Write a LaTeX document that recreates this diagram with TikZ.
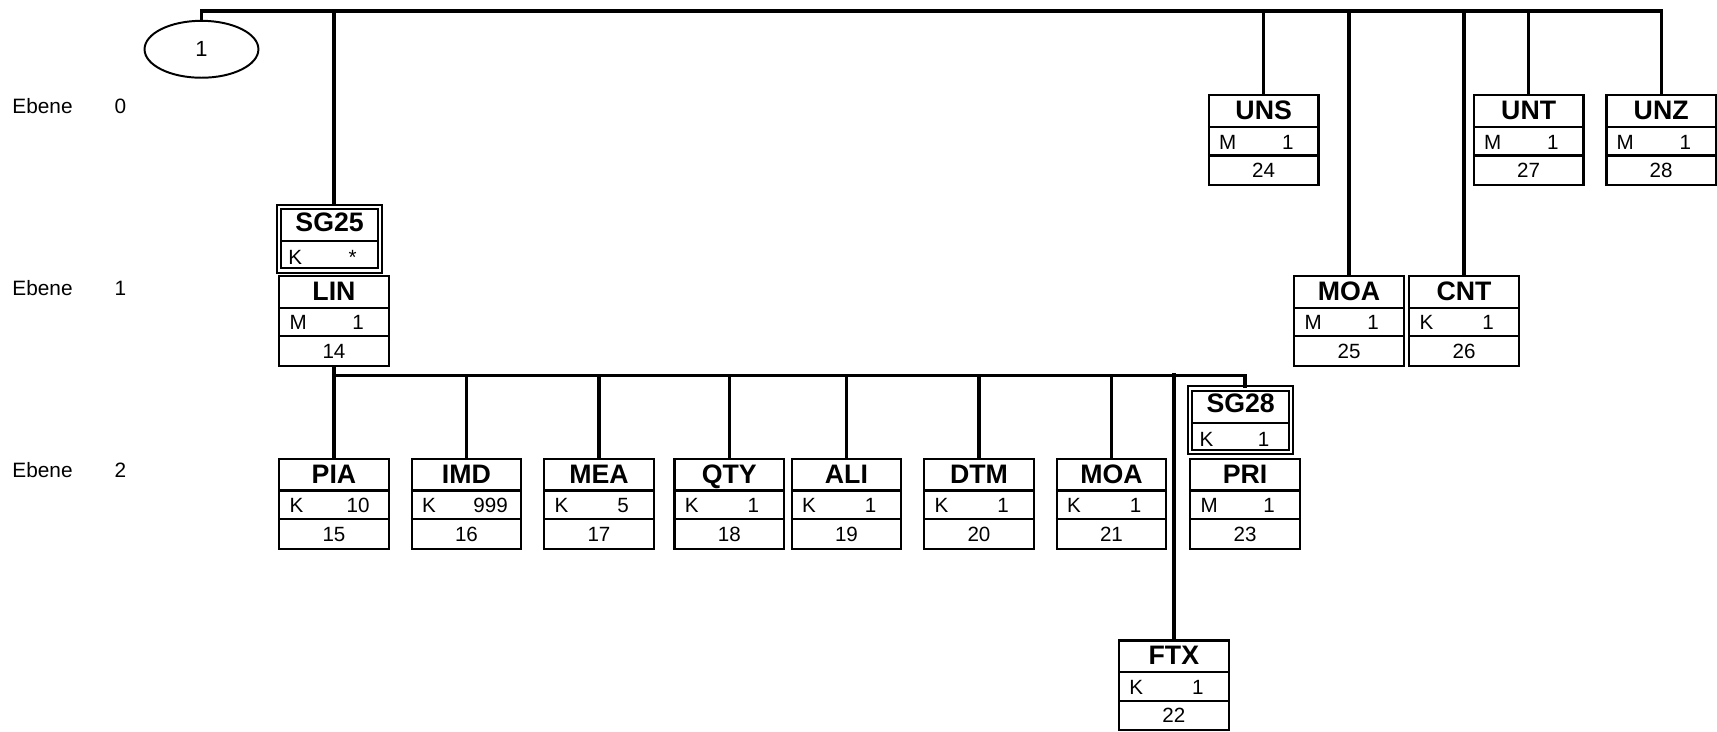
\documentclass[tikz,border=0pt]{standalone}
\usepackage{fontspec}
\setmainfont{Liberation Sans}
\usetikzlibrary{shapes.geometric, calc}

% segment box: name, x, top, tag, status, repeat, number
\newcommand{\segbox}[7]{%
    \node[seg, anchor=north] (#1) at (#2,#3) {};
    \draw[rowline] ($(#1.north west)+(0,30)$) -- ($(#1.north east)+(0,30)$);
    \draw[rowline] ($(#1.north west)+(0,56)$) -- ($(#1.north east)+(0,56)$);
    \node[tagtext] (#1-t) at ($(#1.north)+(0,16)$) {#4};
    \node[smalltext, anchor=west] (#1-s) at ($(#1.north west)+(10,43)$) {#5};
    \node[smalltext] (#1-r) at ($(#1.north west)+(73,43)$) {#6};
    \node[smalltext] (#1-n) at ($(#1.north)+(0,69)$) {#7};
}
% group box: name, x, top, tag, status, repeat
\newcommand{\grpbox}[6]{%
    \node[grp, anchor=north] (#1) at (#2,#3) {};
    \draw[rowline] ($(#1.north west)+(1.9,32.1)$) -- ($(#1.north east)+(-1.9,32.1)$);
    \node[tagtext] (#1-t) at ($(#1.north)+(0,16)$) {#4};
    \node[smalltext, anchor=west] (#1-s) at ($(#1.north west)+(9,46.3)$) {#5};
    \node[smalltext] (#1-r) at ($(#1.north west)+(68,46.3)$) {#6};
}

\begin{document}
\begin{tikzpicture}[x=0.5pt, y=-0.5pt,
    conn/.style={line width=1.5pt},
    rowline/.style={line width=1pt},
    seg/.style={draw, line width=1pt, minimum width=50pt, minimum height=41pt, inner sep=0pt},
    grp/.style={draw, line width=0.9pt, double, double distance=1pt, minimum width=46.1pt, minimum height=29.1pt, inner sep=0pt},
    tagtext/.style={font=\fontsize{12.2}{14}\selectfont\bfseries, inner sep=0pt, text height=0.72em, text depth=0pt},
    smalltext/.style={font=\fontsize{9.4}{11}\selectfont, inner sep=0pt, text height=0.72em, text depth=0pt},
    leveltext/.style={font=\fontsize{9.5}{11}\selectfont, inner sep=0pt, text height=0.72em, text depth=0pt}]
        \useasboundingbox (0,0) rectangle (1568,668);

        % Levels
        \node[leveltext, anchor=west] (e0) at (11,96) {Ebene};
        \node[leveltext] (e0n) at (110,96) {0};
        \node[leveltext, anchor=west] (e1) at (11,263) {Ebene};
        \node[leveltext] (e1n) at (110,263) {1};
        \node[leveltext, anchor=west] (e2) at (11,429) {Ebene};
        \node[leveltext] (e2n) at (110,429) {2};

        % Root
        \node[ellipse, draw, line width=0.9pt, minimum width=52pt, minimum height=26pt, inner sep=0pt, font=\fontsize{10}{12}\selectfont] (root) at (184,45) {1};

        % Level 0
        \segbox{uns}{1154}{86}{UNS}{M}{1}{24}
        \segbox{unt}{1396}{86}{UNT}{M}{1}{27}
        \segbox{unz}{1517}{86}{UNZ}{M}{1}{28}

        % Level 1
        \grpbox{sg25}{301}{187.9}{SG25}{K}{*}
        \segbox{lin}{305}{251}{LIN}{M}{1}{14}
        \segbox{moaa}{1232}{251}{MOA}{M}{1}{25}
        \segbox{cnt}{1337}{251}{CNT}{K}{1}{26}

        % Level 2
        \segbox{pia}{305}{418}{PIA}{K}{10}{15}
        \segbox{imd}{426}{418}{IMD}{K}{999}{16}
        \segbox{mea}{547}{418}{MEA}{K}{5}{17}
        \segbox{qty}{666}{418}{QTY}{K}{1}{18}
        \segbox{ali}{773}{418}{ALI}{K}{1}{19}
        \segbox{dtm}{894}{418}{DTM}{K}{1}{20}
        \segbox{moab}{1015}{418}{MOA}{K}{1}{21}
        \grpbox{sg28}{1133}{353.9}{SG28}{K}{1}
        \segbox{pri}{1137}{418}{PRI}{M}{1}{23}
        \segbox{ftx}{1072}{584}{FTX}{K}{1}{22}

        % Edges
        \coordinate (top) at (0,10);
        \coordinate (mid) at (0,343);
        \draw[conn] (root.north) |- (unz.north |- top) -- (unz.north);
        \draw[conn] (lin.north |- top) -- (sg25.north -| lin.north);
        \draw[conn] (uns.north |- top) -- (uns.north);
        \draw[conn] (moaa.north |- top) -- (moaa.north);
        \draw[conn] (cnt.north |- top) -- (cnt.north);
        \draw[conn] (unt.north |- top) -- (unt.north);
        \draw[conn] (lin.south) -- (pia.north);
        \draw[conn] (lin.south |- mid) -| (pri.north |- sg28.north);
        \draw[conn] (imd.north |- mid) -- (imd.north);
        \draw[conn] (mea.north |- mid) -- (mea.north);
        \draw[conn] (qty.north |- mid) -- (qty.north);
        \draw[conn] (ali.north |- mid) -- (ali.north);
        \draw[conn] (dtm.north |- mid) -- (dtm.north);
        \draw[conn] (moab.north |- mid) -- (moab.north);
        \draw[conn, line width=1.9pt] ($(ftx.north |- mid)+(0,-2)$) -- (ftx.north);
\end{tikzpicture}
\end{document}
